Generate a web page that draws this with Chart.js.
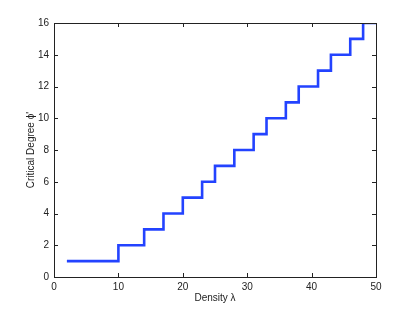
<!DOCTYPE html>
<html>
<head>
<meta charset="utf-8">
<script src="https://cdn.jsdelivr.net/npm/chart.js@4/dist/chart.umd.min.js"></script>
<style>
  html, body { margin: 0; padding: 0; background: #fff; }
  #wrap { width: 415px; height: 312px; }
</style>
</head>
<body>
<div id="wrap"><canvas id="c" width="415" height="312"></canvas></div>
<script>
// Critical degree vs density, step plot
const densities = [2, 10, 14, 17, 20, 23, 25, 28, 31, 33, 36, 38, 41, 43, 46, 48, 50];
const degrees   = [1, 2, 3, 4, 5, 6, 7, 8, 9, 10, 11, 12, 13, 14, 15, 16, 16];
const xTicks = [0, 10, 20, 30, 40, 50];
const yTicks = [0, 2, 4, 6, 8, 10, 12, 14, 16];

const FONT = { family: '"Liberation Sans", Arial, Helvetica, sans-serif', size: 10 };
const INK = '#222';

// ── box + inward ticks on all four sides (MATLAB look) ─────────────────────────
const boxTicks = {
    id: 'boxTicks',
    afterDraw(chart) {
        const { ctx, chartArea: a, scales } = chart;
        const len = 4;
        ctx.save();
        ctx.strokeStyle = INK;
        ctx.lineWidth = 1;
        ctx.beginPath();
        xTicks.forEach(v => {
            const px = Math.round(scales.x.getPixelForValue(v)) + 0.5;
            ctx.moveTo(px, a.bottom); ctx.lineTo(px, a.bottom - len);
            ctx.moveTo(px, a.top);    ctx.lineTo(px, a.top + len);
        });
        yTicks.forEach(v => {
            const py = Math.round(scales.y.getPixelForValue(v)) + 0.5;
            ctx.moveTo(a.left, py);  ctx.lineTo(a.left + len, py);
            ctx.moveTo(a.right, py); ctx.lineTo(a.right - len, py);
        });
        ctx.stroke();
        ctx.strokeRect(Math.round(a.left) + 0.5, Math.round(a.top) + 0.5,
            Math.round(a.right - a.left), Math.round(a.bottom - a.top));
        ctx.restore();
    }
};

new Chart(document.getElementById('c'), {
    type: 'line',
    data: {
        datasets: [{
            data: densities.map((x, i) => ({ x, y: degrees[i] })),
            stepped: 'before',
            borderColor: '#2343ff',
            borderWidth: 2.6,
            pointRadius: 0,
            fill: false
        }]
    },
    options: {
        responsive: false,
        animation: false,
        layout: { padding: { left: 0, top: 23, right: 39, bottom: 0 } },
        plugins: { legend: { display: false }, tooltip: { enabled: false } },
        scales: {
            x: {
                type: 'linear', min: 0, max: 50,
                afterFit: s => { s.height = 35; },
                afterBuildTicks: s => { s.ticks = xTicks.map(v => ({ value: v })); },
                ticks: { font: FONT, color: INK, padding: 4, maxRotation: 0 },
                grid: { display: false, drawTicks: false },
                border: { display: false },
                title: { display: true, text: 'Density λ', font: FONT, color: INK, padding: { top: 0, bottom: 8 } }
            },
            y: {
                type: 'linear', min: 0, max: 16,
                afterFit: s => { s.width = 54; },
                afterBuildTicks: s => { s.ticks = yTicks.map(v => ({ value: v })); },
                ticks: { font: FONT, color: INK, padding: 5 },
                grid: { display: false, drawTicks: false },
                border: { display: false },
                title: { display: true, text: "Critical Degree ϕ'", font: FONT, color: INK, padding: { top: 25, bottom: 0 } }
            }
        }
    },
    plugins: [boxTicks]
});
</script>
</body>
</html>
